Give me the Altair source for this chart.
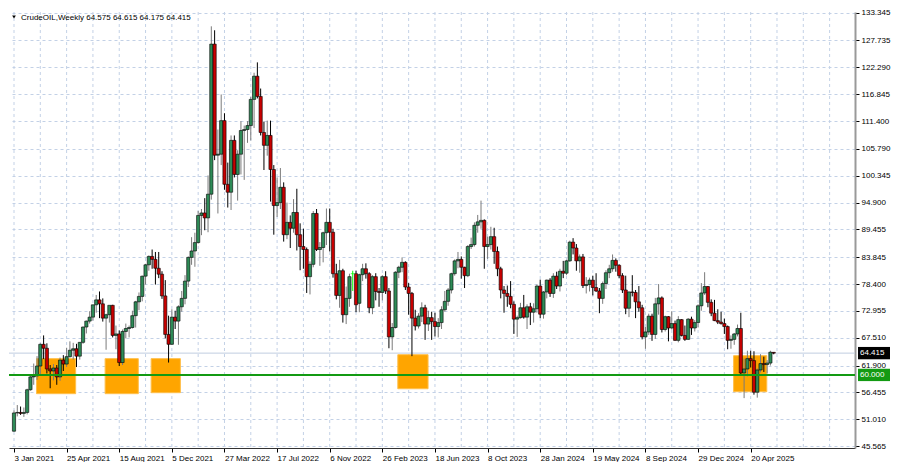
import altair as alt
import pandas as pd

# ---------------- data (weekly candles, week index 0 = 3 Jan 2021) ----------------
opens = [48.6, 52.3, 52.4, 52.2, 52.4, 57.0, 59.6, 59.8, 61.8, 66.2,
         65.4, 61.2, 60.8, 61.4, 59.6, 63.0, 62.2, 63.7, 65.0, 65.3,
         63.8, 66.6, 69.7, 70.9, 71.7, 74.2, 75.2, 74.4, 71.5, 72.2,
         74.1, 68.0, 68.3, 62.5, 68.8, 69.4, 69.6, 72.0, 74.8, 75.9,
         80.0, 82.3, 84.0, 83.4, 81.6, 80.4, 76.0, 68.2, 66.2, 71.7,
         70.9, 73.8, 75.5, 79.0, 83.8, 85.1, 86.8, 92.3, 92.8, 91.8,
         96.6, 127.0, 104.5, 104.7, 111.5, 98.6, 97.0, 107.5, 100.6, 104.7,
         109.5, 109.7, 110.5, 115.8, 120.5, 116.4, 109.1, 106.5, 108.5, 101.6,
         94.3, 94.9, 98.0, 88.4, 90.9, 89.7, 92.9, 88.4, 86.0, 85.4,
         79.9, 82.4, 92.7, 85.4, 85.8, 88.8, 90.9, 88.9, 80.5, 76.1,
         81.1, 72.2, 75.5, 80.5, 80.5, 74.5, 80.3, 81.5, 80.5, 73.6,
         79.9, 76.9, 76.7, 79.9, 77.0, 67.7, 69.6, 80.8, 81.8, 82.8,
         77.8, 76.5, 71.5, 69.9, 71.9, 73.6, 70.3, 71.6, 70.8, 69.8,
         70.6, 73.2, 74.9, 77.2, 80.5, 83.1, 83.4, 81.8, 80.1, 86.0,
         86.4, 90.3, 91.0, 91.3, 86.0, 86.4, 88.0, 85.0, 81.5, 77.2,
         76.5, 75.9, 74.3, 71.3, 71.6, 73.6, 71.7, 73.8, 72.7, 73.4,
         78.0, 72.3, 76.8, 79.2, 76.5, 80.0, 78.0, 81.0, 80.6, 83.1,
         86.9, 85.7, 83.1, 83.9, 78.1, 78.3, 79.2, 77.7, 77.0, 75.5,
         78.5, 80.7, 81.5, 83.2, 82.2, 80.1, 77.2, 73.5, 76.8, 76.7,
         74.8, 73.6, 67.7, 68.7, 71.9, 68.2, 74.4, 75.6, 69.2, 71.8,
         69.5, 70.4, 67.0, 71.2, 68.0, 67.2, 71.3, 69.5, 70.6, 74.0,
         76.6, 77.9, 74.7, 72.5, 71.0, 70.7, 70.4, 69.8, 67.0, 67.2,
         68.3, 69.4, 60.4, 61.2, 63.3, 62.9, 56.5, 61.0, 62.3, 62.1,
         62.4, 64.575]
highs = [52.8, 53.9, 53.6, 53.4, 57.2, 60.0, 62.3, 63.8, 66.4, 68.0,
         66.4, 62.0, 62.2, 62.0, 63.5, 64.0, 65.5, 66.8, 66.5, 66.3,
         66.6, 69.8, 71.0, 72.9, 74.2, 76.2, 76.9, 75.5, 72.4, 74.0,
         74.2, 70.0, 69.0, 69.2, 70.4, 70.0, 73.0, 75.0, 76.7, 80.1,
         82.5, 84.2, 85.4, 84.9, 84.9, 81.0, 79.2, 72.0, 73.3, 73.0,
         74.1, 77.0, 80.2, 84.0, 87.9, 88.8, 93.2, 93.6, 95.8, 100.4,
         130.6, 129.8, 109.7, 116.8, 113.0, 103.0, 108.5, 108.5, 105.5, 111.4,
         110.5, 111.4, 116.3, 121.2, 123.3, 118.0, 111.3, 111.5, 111.5, 102.5,
         100.0, 101.9, 99.0, 94.9, 92.3, 95.6, 97.7, 90.7, 89.6, 85.8,
         83.0, 93.2, 93.6, 86.9, 89.0, 93.7, 93.7, 89.6, 82.5, 83.3,
         81.5, 77.9, 80.5, 81.1, 81.1, 80.5, 82.5, 82.6, 80.8, 80.2,
         80.6, 77.6, 80.2, 81.0, 77.6, 70.5, 81.0, 82.1, 83.8, 83.0,
         78.6, 76.8, 73.2, 72.5, 74.7, 74.2, 73.0, 72.8, 72.6, 71.5,
         73.9, 77.0, 77.6, 80.7, 83.4, 84.9, 84.0, 81.9, 86.3, 87.8,
         90.9, 92.4, 95.3, 91.5, 88.0, 90.0, 89.8, 86.0, 81.9, 78.0,
         78.1, 79.0, 74.9, 72.0, 74.6, 76.2, 74.3, 74.6, 74.5, 78.3,
         79.3, 77.0, 79.3, 79.6, 80.6, 80.9, 81.5, 83.1, 83.3, 87.2,
         87.7, 86.5, 84.4, 84.5, 79.8, 79.7, 80.1, 80.6, 77.6, 78.9,
         81.2, 82.3, 84.4, 83.6, 82.4, 80.6, 80.1, 76.9, 80.2, 77.2,
         78.0, 74.2, 69.7, 72.4, 72.4, 75.6, 78.4, 75.9, 72.0, 71.9,
         72.9, 71.0, 71.9, 71.3, 70.0, 71.5, 71.8, 71.1, 74.3, 78.6,
         80.8, 78.0, 75.3, 75.2, 73.3, 72.8, 71.4, 70.0, 68.0, 68.5,
         70.2, 72.6, 63.3, 64.9, 64.9, 64.8, 61.3, 64.2, 63.7, 63.0,
         64.9, 64.615]
lows = [48.5, 51.6, 51.9, 51.5, 52.0, 56.8, 58.0, 59.0, 59.8, 63.2,
        60.3, 57.3, 58.9, 58.0, 58.8, 60.8, 61.6, 63.5, 63.1, 61.6,
        63.1, 66.3, 68.4, 70.4, 71.0, 72.6, 71.5, 70.8, 65.1, 70.6,
        67.6, 65.2, 61.8, 62.0, 67.4, 67.6, 69.4, 69.6, 73.1, 74.9,
        78.3, 81.1, 81.5, 78.3, 79.6, 75.4, 67.4, 62.5, 66.1, 69.3,
        66.1, 72.8, 74.3, 77.8, 82.3, 81.9, 86.6, 88.3, 89.3, 88.9,
        95.5, 103.5, 92.7, 102.5, 97.5, 93.9, 93.4, 100.0, 95.3, 100.6,
        99.5, 107.0, 107.5, 110.0, 116.0, 108.5, 101.5, 104.4, 95.1, 88.4,
        92.0, 93.6, 87.0, 87.5, 85.7, 88.8, 85.2, 81.2, 81.5, 76.6,
        76.3, 81.8, 85.1, 82.1, 82.8, 86.3, 85.0, 79.7, 75.3, 73.6,
        70.6, 70.3, 73.8, 77.0, 72.7, 72.7, 79.0, 79.5, 72.5, 72.3,
        75.1, 73.8, 75.1, 76.4, 65.4, 65.0, 69.4, 79.6, 80.8, 77.2,
        72.2, 63.8, 69.0, 69.4, 70.7, 67.1, 68.9, 67.1, 67.8, 67.6,
        69.3, 72.8, 74.0, 76.5, 80.1, 81.6, 79.5, 77.6, 79.8, 85.5,
        86.0, 88.8, 89.6, 81.5, 83.5, 85.4, 82.5, 80.0, 75.5, 72.6,
        73.8, 73.5, 68.3, 67.7, 71.4, 71.4, 69.3, 70.1, 70.6, 72.6,
        71.5, 71.4, 75.5, 75.8, 75.6, 77.4, 76.9, 79.6, 80.2, 82.9,
        84.4, 81.1, 80.7, 77.6, 76.5, 76.9, 76.1, 76.8, 72.5, 74.4,
        77.4, 79.6, 80.9, 80.9, 79.6, 76.6, 72.3, 71.7, 75.9, 71.5,
        72.8, 67.2, 65.3, 68.1, 66.9, 67.3, 72.2, 68.6, 68.8, 66.8,
        69.2, 66.9, 66.6, 67.8, 66.9, 67.1, 68.1, 68.8, 69.6, 73.0,
        76.2, 73.7, 71.9, 70.9, 70.3, 70.2, 68.3, 65.2, 65.3, 66.1,
        67.8, 59.8, 55.3, 59.7, 61.5, 56.0, 55.4, 60.5, 60.6, 60.3,
        61.9, 64.175]
closes = [52.3, 52.4, 52.2, 52.4, 57.0, 59.6, 59.8, 61.8, 66.2, 65.4,
          61.2, 60.8, 61.4, 59.6, 63.0, 62.2, 63.7, 65.0, 65.3, 63.8,
          66.6, 69.7, 70.9, 71.7, 74.2, 75.2, 74.4, 71.5, 72.2, 74.1,
          68.0, 68.3, 62.5, 68.8, 69.4, 69.6, 72.0, 74.8, 75.9, 80.0,
          82.3, 84.0, 83.4, 81.6, 80.4, 76.0, 68.2, 66.2, 71.7, 70.9,
          73.8, 75.5, 79.0, 83.8, 85.1, 86.8, 92.3, 92.8, 91.8, 96.6,
          127.0, 104.5, 104.7, 111.5, 98.6, 97.0, 107.5, 100.6, 104.7, 109.5,
          109.7, 110.5, 115.8, 120.5, 116.4, 109.1, 106.5, 108.5, 101.6, 94.3,
          94.9, 98.0, 88.4, 90.9, 89.7, 92.9, 88.4, 86.0, 85.4, 79.9,
          82.4, 92.7, 85.4, 85.8, 88.8, 90.9, 88.9, 80.5, 76.1, 81.1,
          72.2, 75.5, 79.9, 80.5, 74.2, 80.3, 81.5, 80.5, 73.6, 79.9,
          76.9, 76.7, 79.9, 77.0, 67.7, 69.6, 80.8, 81.8, 82.8, 77.8,
          76.5, 71.5, 69.9, 71.9, 73.6, 70.3, 71.6, 70.8, 69.8, 70.6,
          73.2, 74.9, 77.2, 80.5, 83.1, 83.4, 81.8, 80.1, 86.0, 86.4,
          90.3, 91.0, 91.3, 86.0, 86.4, 88.0, 85.0, 81.5, 77.2, 76.5,
          75.9, 74.3, 71.3, 71.6, 73.6, 71.7, 73.8, 72.7, 73.4, 78.0,
          72.3, 76.8, 79.2, 76.5, 80.0, 78.0, 81.0, 80.6, 83.1, 86.9,
          85.7, 83.1, 83.9, 78.1, 78.3, 79.2, 77.7, 77.0, 75.5, 78.5,
          80.7, 81.5, 83.2, 82.2, 80.1, 77.2, 73.5, 76.8, 76.7, 74.8,
          73.6, 67.7, 68.7, 71.9, 68.2, 74.4, 75.6, 69.2, 71.8, 69.5,
          70.4, 67.0, 71.2, 68.0, 67.2, 71.3, 69.5, 70.6, 74.0, 76.6,
          77.9, 74.7, 72.5, 71.0, 70.7, 70.4, 69.8, 67.0, 67.2, 68.3,
          69.4, 60.4, 61.2, 63.3, 62.9, 56.5, 61.0, 62.3, 62.1, 62.4,
          64.6, 64.415]

label_weeks = [0, 16, 32, 48, 64, 80, 96, 112, 128, 144, 160, 176, 192, 208, 224]
label_texts = ["3 Jan 2021", "25 Apr 2021", "15 Aug 2021", "5 Dec 2021",
               "27 Mar 2022", "17 Jul 2022", "6 Nov 2022", "26 Feb 2023",
               "18 Jun 2023", "8 Oct 2023", "28 Jan 2024", "19 May 2024",
               "8 Sep 2024", "29 Dec 2024", "20 Apr 2025"]
grid_weeks = list(range(0, 256, 8))

price_ticks = [133.345, 127.735, 122.290, 116.845, 111.400, 105.790, 100.345,
               94.900, 89.455, 83.845, 78.400, 72.955, 67.510, 61.900,
               56.455, 51.010, 45.565]

zone_start = [6.85, 27.7, 41.7, 116.7, 218.8]
zone_end = [18.75, 37.8, 50.6, 125.9, 228.9]
zone_low = [56.2, 56.2, 56.4, 57.2, 56.6]
zone_high = [63.3, 63.3, 63.3, 64.1, 63.9]

level_price = 60.0
last_price = closes[-1]

# ---------------- layout ----------------
W, H = 846, 436
FONT = "Liberation Sans"
GRID = "#c3d1e6"
xs = alt.Scale(domain=[0, 254.2], nice=False, zero=False)
ys = alt.Scale(domain=[45.2, 133.5], nice=False, zero=False)

def direction(o, c):
    if abs(o - c) < 1e-9:
        return "doji"
    return "up" if c > o else "down"

candles = pd.DataFrame({
    "i": list(range(len(opens))),
    "open": opens, "high": highs, "low": lows, "close": closes,
})
candles["dir"] = [direction(o, c) for o, c in zip(opens, closes)]

label_js = "[" + ",".join("'" + t + "'" for t in label_texts) + "]"
x_axis = alt.Axis(values=label_weeks, labelExpr=label_js + "[round(datum.value/16)]",
                  labelAlign="left", labelFont=FONT, labelFontSize=8, labelColor="black",
                  labelPadding=2, tickSize=4, tickColor="black", domainColor="#333333",
                  grid=False, title=None, labelOverlap=False, labelFlush=False)
y_axis = alt.Axis(orient="right", values=price_ticks, format=".3f", labelFont=FONT,
                  labelFontSize=8, labelColor="black", labelPadding=2, tickSize=4,
                  tickColor="black", domainColor="#999999", domainWidth=2,
                  grid=True, gridDash=[3, 3], gridColor=GRID, title=None,
                  labelOverlap=False, labelFlush=False)

X = lambda f: alt.X(f, scale=xs, axis=x_axis)
Y = lambda f: alt.Y(f, scale=ys, axis=y_axis)

vgrid = alt.Chart(pd.DataFrame({"i": grid_weeks})).mark_rule(
    strokeDash=[3, 3], color=GRID, strokeWidth=1, clip=True
).encode(x=X("i:Q"))

zones = alt.Chart(pd.DataFrame({"x1": zone_start, "x2": zone_end,
                                "lo": zone_low, "hi": zone_high})).mark_rect(
    color="#ffa500", stroke="#ffc04d", strokeWidth=1
).encode(x=X("x1:Q"), x2="x2:Q", y=Y("lo:Q"), y2="hi:Q")

last_line = alt.Chart(pd.DataFrame({"v": [last_price]})).mark_rule(
    color="#c0cde0", strokeWidth=1
).encode(y=Y("v:Q"))

wicks = alt.Chart(candles).mark_rule(strokeWidth=1, clip=True).encode(
    x=X("i:Q"), y=Y("low:Q"), y2="high:Q",
    color=alt.Color("dir:N", scale=alt.Scale(domain=["up", "down", "doji"],
                                             range=["#7a7a7a", "#000000", "#00ff00"]),
                    legend=None))

bodies = alt.Chart(candles).transform_filter("datum.dir != 'doji'").mark_bar(
    width=3.2, stroke="black", strokeWidth=0.6, clip=True
).encode(
    x=X("i:Q"), y=Y("open:Q"), y2="close:Q",
    fill=alt.Fill("dir:N", scale=alt.Scale(domain=["up", "down"],
                                           range=["#2e8b57", "#c80000"]),
                  legend=None))

dojis = alt.Chart(candles).transform_filter("datum.dir == 'doji'").mark_tick(
    orient="horizontal", size=4, thickness=1, color="#00ff00", clip=True
).encode(x=X("i:Q"), y=Y("close:Q"))

level_line = alt.Chart(pd.DataFrame({"v": [level_price]})).mark_rule(
    color="#139a13", strokeWidth=2
).encode(y=Y("v:Q"))

tags = pd.DataFrame({
    "v": [last_price, level_price],
    "txt": [f"{last_price:.3f}", f"{level_price:.3f}"],
    "bg": ["#000000", "#139a13"],
})
tags["lo"] = tags["v"] - 1.25
tags["hi"] = tags["v"] + 1.25
tag_box = alt.Chart(tags).mark_rect().encode(
    x=alt.value(W + 3), x2=alt.value(W + 35),
    y=Y("lo:Q"), y2="hi:Q",
    color=alt.Color("bg:N", scale=None, legend=None))
tag_txt = alt.Chart(tags).mark_text(align="left", baseline="middle", font=FONT,
                                    fontSize=8, color="white").encode(
    x=alt.value(W + 5), y=Y("v:Q"), text="txt:N")

header = f"CrudeOIL,Weekly  {opens[-1]:.3f} {highs[-1]:.3f} {lows[-1]:.3f} {closes[-1]:.3f}"
head_txt = alt.Chart(pd.DataFrame({"t": [header]})).mark_text(
    align="left", baseline="middle", font=FONT, fontSize=8, color="black"
).encode(x=alt.value(12), y=alt.value(6), text="t:N")
head_tri = alt.Chart(pd.DataFrame({"t": [0]})).mark_point(
    shape="triangle-down", filled=True, size=14, color="black", opacity=1
).encode(x=alt.value(5), y=alt.value(5))

chart = alt.layer(vgrid, zones, last_line, wicks, bodies, dojis, level_line,
                  tag_box, tag_txt, head_txt, head_tri).properties(
    width=W, height=H, padding={"left": 0, "top": 0, "right": 2, "bottom": 0},
    background="white"
).configure_view(stroke=None)

chart.save("out.html", embed_options={"renderer": "svg", "actions": False})
